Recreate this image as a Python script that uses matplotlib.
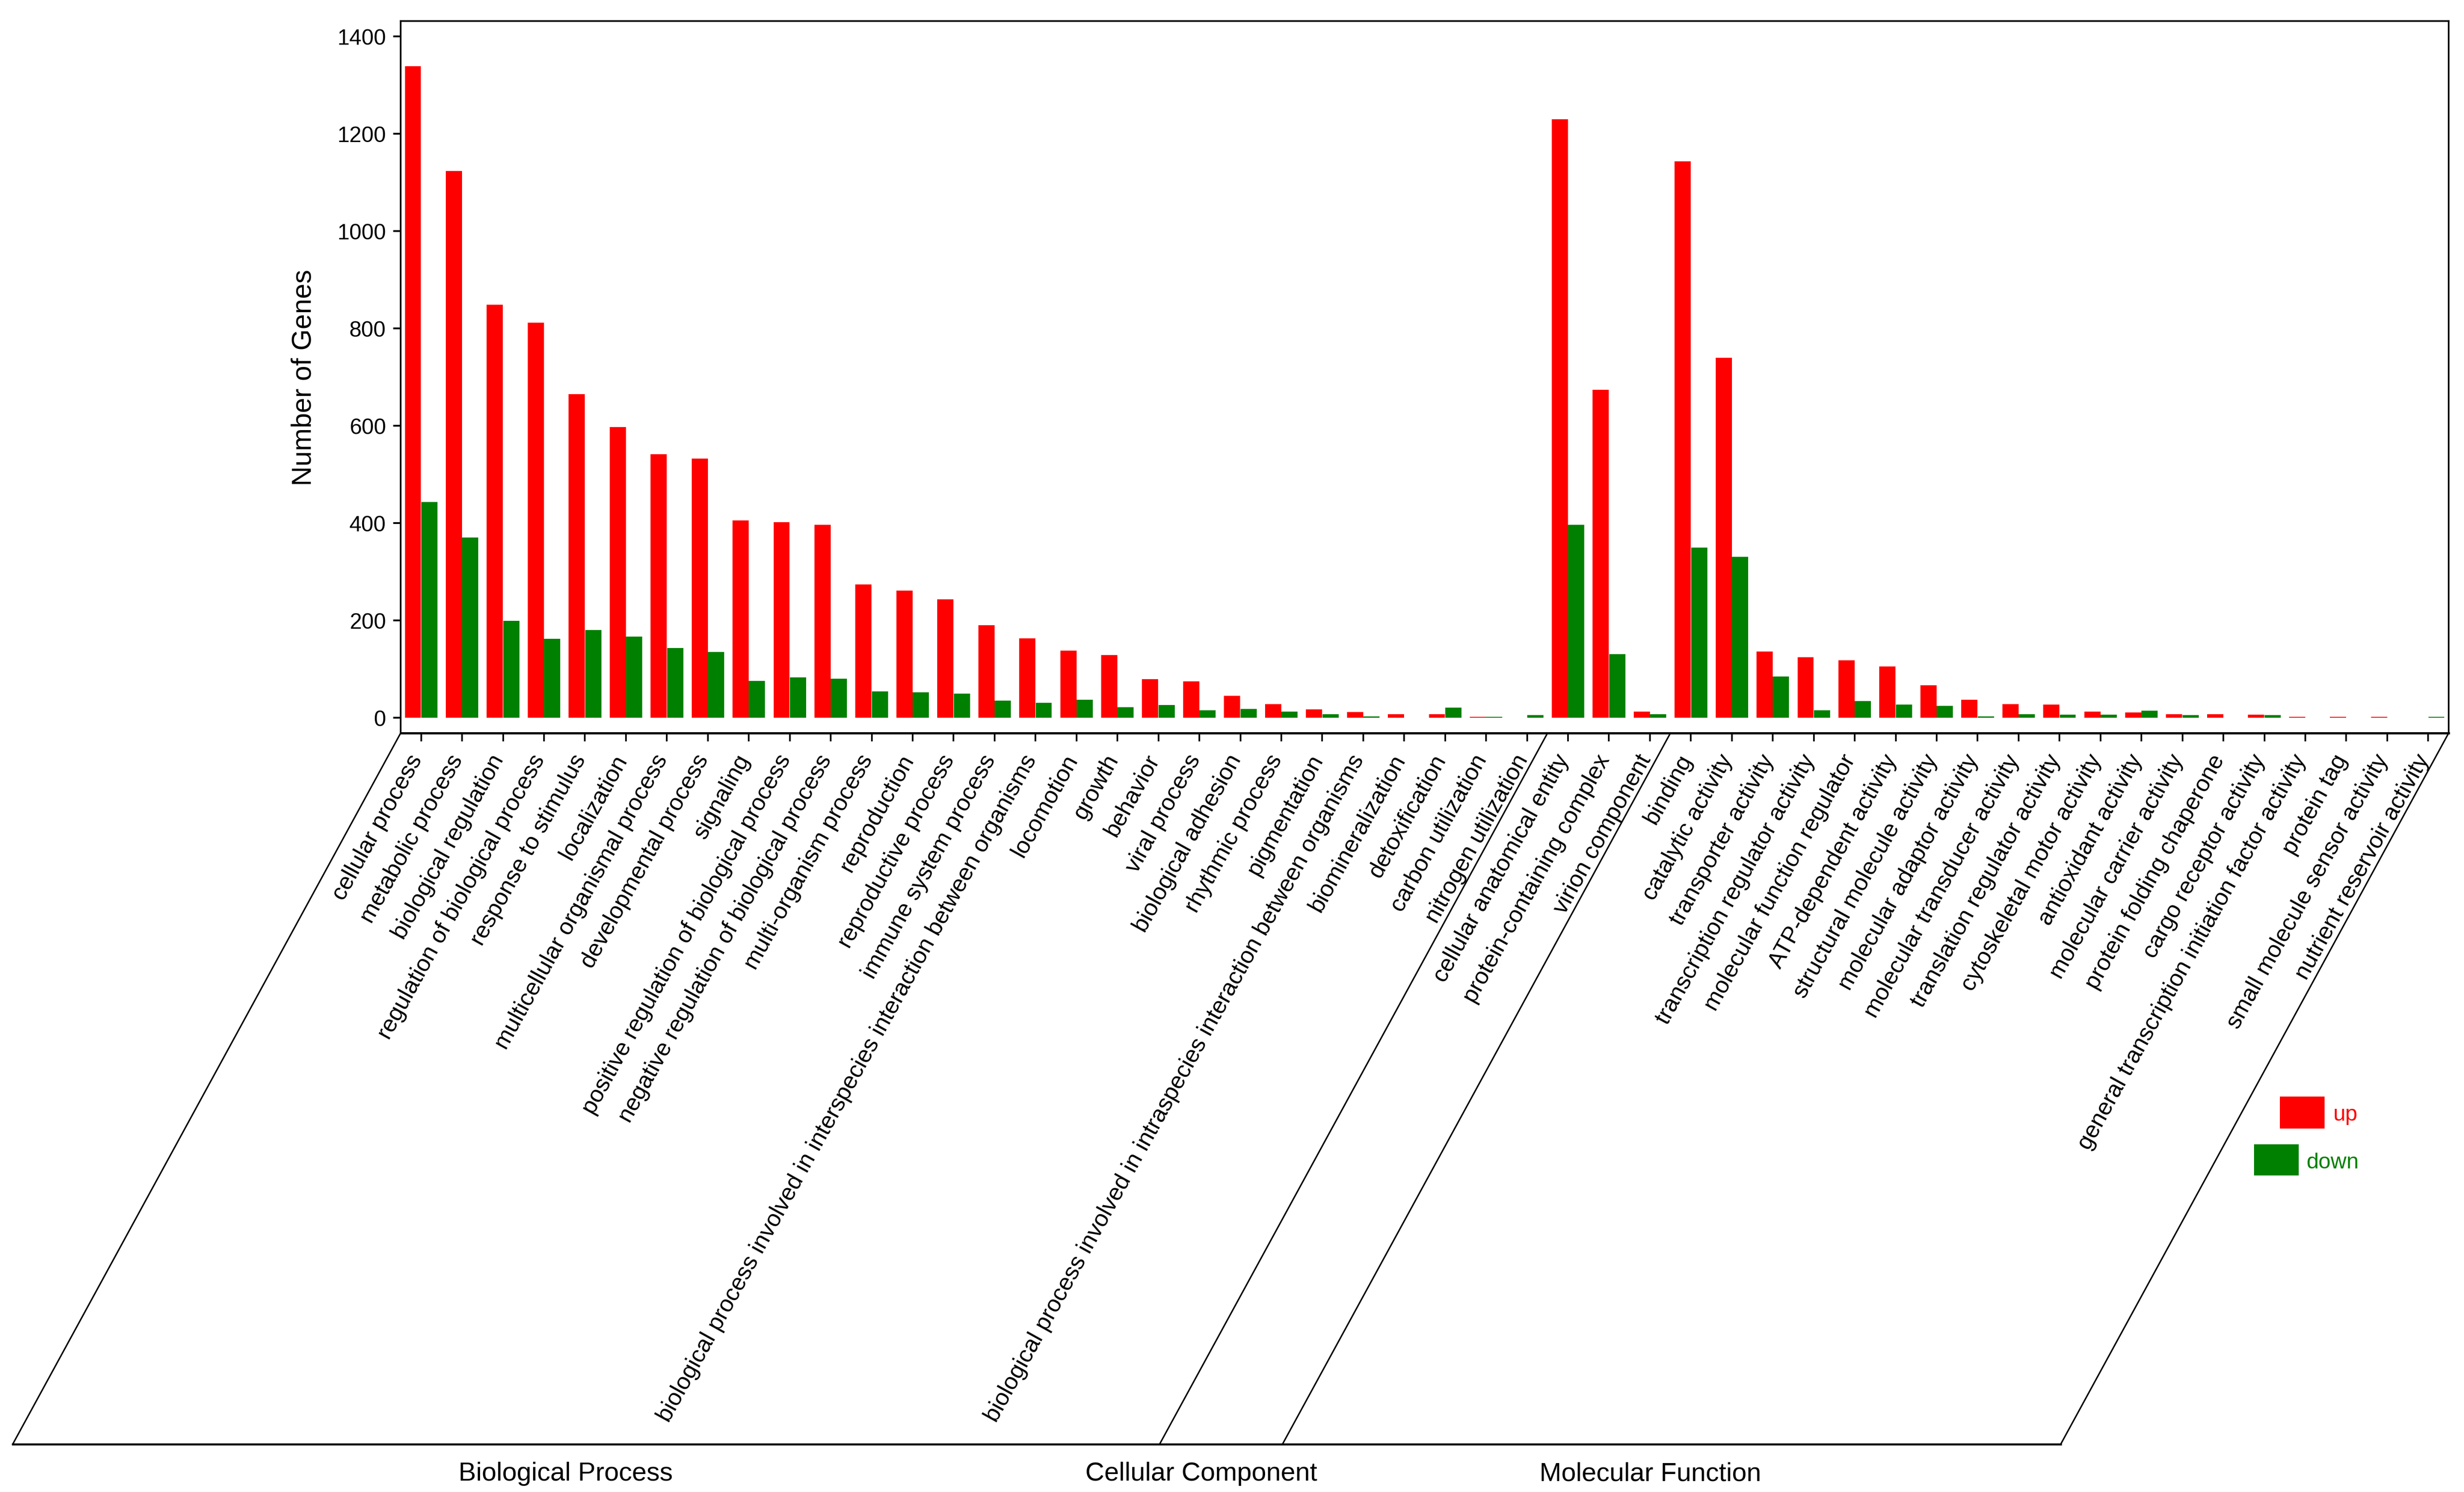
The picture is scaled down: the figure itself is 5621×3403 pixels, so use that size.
import matplotlib
matplotlib.use("Agg")
import matplotlib.pyplot as plt
from matplotlib.lines import Line2D
from matplotlib.patches import Rectangle
from matplotlib.transforms import ScaledTranslation
import numpy as np

plt.rcParams['font.family'] = ['Liberation Sans', 'DejaVu Sans']

W, H = 5621, 3404
DPI = 300

# go terms, grouped: first 28 BP, next 3 CC, last 19 MF
terms = [
    "cellular process", "metabolic process", "biological regulation",
    "regulation of biological process", "response to stimulus", "localization",
    "multicellular organismal process", "developmental process", "signaling",
    "positive regulation of biological process",
    "negative regulation of biological process", "multi-organism process",
    "reproduction", "reproductive process", "immune system process",
    "biological process involved in interspecies interaction between organisms",
    "locomotion", "growth", "behavior", "viral process", "biological adhesion",
    "rhythmic process", "pigmentation",
    "biological process involved in intraspecies interaction between organisms",
    "biomineralization", "detoxification", "carbon utilization",
    "nitrogen utilization",
    "cellular anatomical entity", "protein-containing complex", "virion component",
    "binding", "catalytic activity", "transporter activity",
    "transcription regulator activity", "molecular function regulator",
    "ATP-dependent activity", "structural molecule activity",
    "molecular adaptor activity", "molecular transducer activity",
    "translation regulator activity", "cytoskeletal motor activity",
    "antioxidant activity", "molecular carrier activity",
    "protein folding chaperone", "cargo receptor activity",
    "general transcription initiation factor activity", "protein tag",
    "small molecule sensor activity", "nutrient reservoir activity",
]

up = [1339, 1123, 849, 812, 665, 597, 541, 532, 405, 402, 396, 274, 261, 243,
      190, 163, 138, 129, 79, 75, 45, 28, 17, 12, 7, 7, 2, 0,
      1230, 674, 13,
      1143, 740, 136, 124, 118, 105, 67, 37, 28, 27, 13, 11, 7, 7, 6, 2, 2, 2, 0]
down = [443, 370, 199, 162, 180, 167, 143, 135, 76, 83, 80, 54, 52, 50,
        35, 31, 37, 22, 26, 15, 18, 13, 7, 3, 0, 21, 2, 5,
        396, 131, 7,
        350, 331, 85, 15, 34, 27, 24, 3, 7, 6, 6, 14, 5, 0, 5, 0, 0, 0, 2]

yticks = [0, 200, 400, 600, 800, 1000, 1200, 1400]
groups = ["Biological Process", "Cellular Component", "Molecular Function"]
group_edges = [-0.5, 27.5, 30.5, 49.5]


def fx(px):
    return px / W


def fy(py):
    return 1 - py / H


def main():
    fig = plt.figure(figsize=(W / DPI, H / DPI), dpi=DPI)
    ax = fig.add_axes([fx(914), fy(1673), fx(5586) - fx(914), fy(49) - fy(1673)])

    x = np.arange(len(terms))
    ax.bar(x - 0.2, up, width=0.395, color="#ff0000", linewidth=0)
    ax.bar(x + 0.2, down, width=0.395, color="#008000", linewidth=0)

    ax.set_xlim(-0.5, 49.5)
    ax.set_ylim(-31.5, 1431.5)
    ax.set_yticks(yticks)
    ax.set_xticks(x)
    ax.set_xticklabels(terms, rotation=61, ha="right", va="center",
                       rotation_mode="anchor", fontsize=12.8)
    ax.tick_params(axis="y", length=4, width=1, labelsize=12, pad=4)
    ax.tick_params(axis="x", length=4.5, width=0.9, pad=8)
    # nudge the term labels a bit to the left
    nudge = ScaledTranslation(-10 / DPI, 0, fig.dpi_scale_trans)
    for lab in ax.get_xticklabels():
        lab.set_transform(lab.get_transform() + nudge)
    for s in ax.spines.values():
        s.set_linewidth(0.9)
    ax.spines["bottom"].set_linewidth(1.2)
    ax.set_ylabel("Number of Genes", fontsize=15)
    ax.yaxis.set_label_coords((722 - 914) / (5586 - 914), 0.5)

    # parallelogram lines joining the term labels to the group names
    bottom_y = fy(3295)
    top_y = fy(1673)
    shift = 885
    xs_fig = []
    for e in group_edges:
        px = ax.transData.transform((e, 0))[0]
        fig.add_artist(Line2D([px / W, (px - shift) / W], [top_y, bottom_y],
                              color="black", lw=0.8))
        xs_fig.append((px - shift) / W)
    fig.add_artist(Line2D([xs_fig[0], xs_fig[-1]], [bottom_y, bottom_y],
                          color="black", lw=1.1))

    for name, cx in zip(groups, [1290, 2740, 3765]):
        fig.text(fx(cx), fy(3362), name, ha="center", va="center", fontsize=14.4)

    # hand placed legend, same as in the reference
    fig.add_artist(Rectangle((fx(5201), fy(2575)), 102 / W, 73 / H,
                             transform=fig.transFigure, fc="#ff0000", lw=0))
    fig.add_artist(Rectangle((fx(5142), fy(2682)), 102 / W, 71 / H,
                             transform=fig.transFigure, fc="#008000", lw=0))
    fig.text(fx(5323), fy(2543), "up", color="#ff0000", fontsize=12,
             ha="left", va="center")
    fig.text(fx(5262), fy(2652), "down", color="#008000", fontsize=12,
             ha="left", va="center")

    fig.savefig("out.png", dpi=DPI)


if __name__ == "__main__":
    main()
